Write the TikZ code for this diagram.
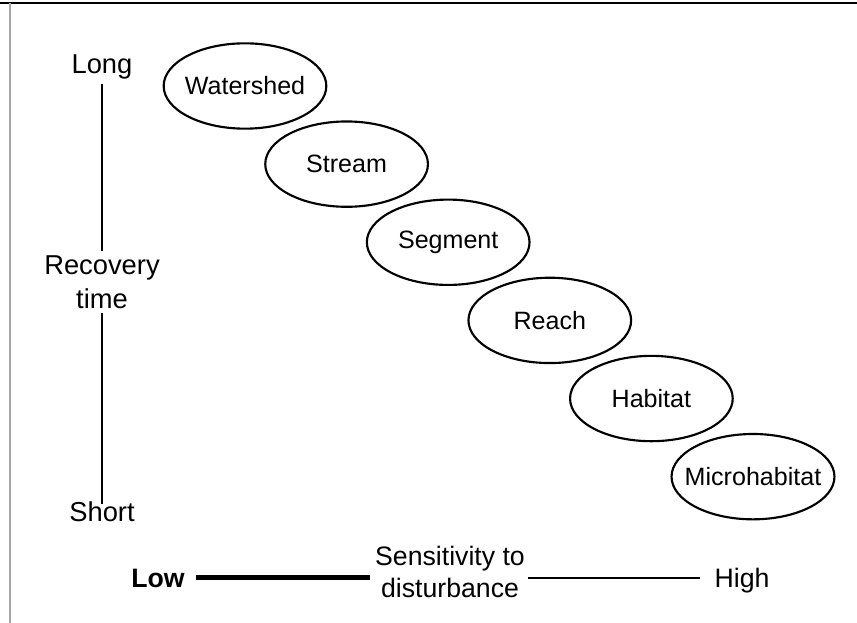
\documentclass[tikz,border=0pt]{standalone}
\usepackage{fontspec}
\setmainfont{Liberation Sans}
\usetikzlibrary{shapes,positioning}

\begin{document}
\begin{tikzpicture}[x=0.75pt,y=-0.75pt]
    \tikzstyle{level} = [
      ellipse,
      draw,
      line width=1.6pt,
      minimum width=122pt,
      minimum height=64pt,
      inner xsep=-8pt,
      inner ysep=0pt,
      font=\fontsize{18.8}{22}\selectfont,
    ]
    \tikzstyle{axislabel} = [
      align=center,
      font=\fontsize{20.5}{25.5}\selectfont,
    ]
    \tikzstyle{scalelabel} = [
      align=center,
      inner xsep=0pt,
      font=\fontsize{20}{24}\selectfont,
    ]
    \tikzstyle{axis} = [
      line width=1.1pt,
      draw=black,
    ]

    \newcommand{\levelx}[0]{76.2pt}
    \newcommand{\levely}[0]{58.6pt}

    % frame
    \useasboundingbox (0,0) rectangle (857,623);
    \draw[line width=1.5pt] (0,3) -- (857,3);
    \draw[gray!70,line width=0.8pt] (10,3) -- (10,623);

    \coordinate (origo) at (245,86);

    \node[level] (watershed) at (origo) {Watershed};
    \node[level] (stream) at ([xshift=\levelx,yshift=-\levely] watershed.center) {Stream};
    \node[level] (segment) at ([xshift=\levelx,yshift=-\levely] stream.center) {Segment};
    \node[level] (reach) at ([xshift=\levelx,yshift=-\levely] segment.center) {Reach};
    \node[level] (habitat) at ([xshift=\levelx,yshift=-\levely] reach.center) {Habitat};
    \node[level] (microhabitat) at ([xshift=\levelx,yshift=-\levely] habitat.center) {Microhabitat};

    % recovery time axis
    \node[axislabel] (long) at (102,67) {Long};
    \node[axislabel] (recovery) at (102,282) {Recovery\\time};
    \node[axislabel] (short) at (102,512) {Short};
    \draw[axis] (long)--(recovery);
    \draw[axis,shorten >=-5pt] (recovery)--(short);

    % sensitivity axis
    \node[scalelabel,font=\bfseries\fontsize{20}{24}\selectfont,anchor=base] (low) at (158,587) {Low};
    \node[scalelabel] (sensitivity) at (450,572) {Sensitivity to\\disturbance};
    \node[scalelabel,anchor=base] (high) at (742,587) {High};
    \draw[line width=3.8pt] ([xshift=8pt] low.east)--([xshift=-4pt] low.east -| sensitivity.west);
    \draw[line width=1.5pt] ([xshift=2pt] low.east -| sensitivity.east)--([xshift=-11pt] low.east -| high.west);
  \end{tikzpicture}
\end{document}
